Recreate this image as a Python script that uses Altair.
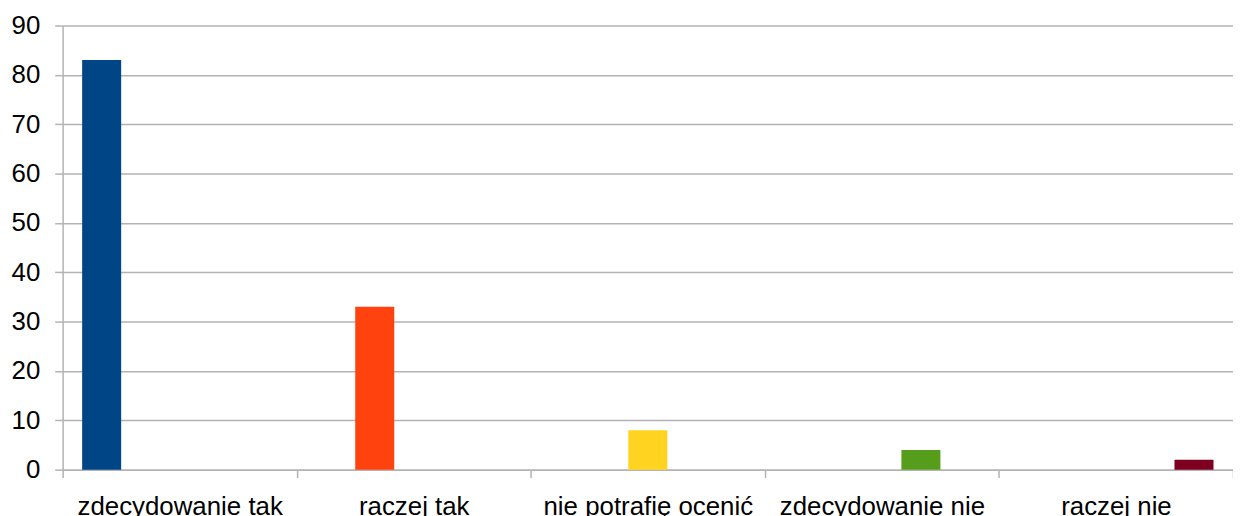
import altair as alt
import pandas as pd

categories = ["zdecydowanie tak", "raczej tak", "nie potrafię ocenić", "zdecydowanie nie", "raczej nie"]
values = [83, 33, 8, 4, 2]
colors = ["#004586", "#ff420e", "#ffd320", "#579d1c", "#7e0021"]
y_ticks = [0, 10, 20, 30, 40, 50, 60, 70, 80, 90]

df = pd.DataFrame({"category": categories, "series": categories, "value": values})

FONT = "Liberation Sans"

chart = alt.Chart(df).mark_bar().encode(
    x=alt.X("category:N", sort=categories, title=None,
            scale=alt.Scale(paddingInner=0, paddingOuter=0),
            axis=alt.Axis(labelAngle=0, tickBand="extent", grid=False,
                          domainColor="#b3b3b3", domainWidth=1.5,
                          tickColor="#b3b3b3", tickWidth=1.5, tickSize=8,
                          labelFontSize=26, labelFont=FONT, labelColor="#000000",
                          labelLimit=0, labelPadding=16)),
    xOffset=alt.XOffset("series:N", sort=categories,
                        scale=alt.Scale(paddingInner=0, paddingOuter=0.5)),
    y=alt.Y("value:Q", title=None,
            scale=alt.Scale(domain=[0, 90], nice=False),
            axis=alt.Axis(values=y_ticks, grid=True, gridColor="#b3b3b3", gridWidth=1.5,
                          domainColor="#b3b3b3", domainWidth=1.5,
                          tickColor="#b3b3b3", tickWidth=1.5, tickSize=8,
                          labelFontSize=26, labelFont=FONT, labelColor="#000000",
                          labelPadding=15)),
    color=alt.Color("series:N", sort=categories, legend=None,
                    scale=alt.Scale(domain=categories, range=colors)),
).properties(
    width=1178,
    height=447,
    autosize=alt.AutoSizeParams(type="none"),
    padding={"left": 55, "top": 16, "right": 0, "bottom": 45},
).configure_view(stroke=None)

chart.save("out.html", embed_options={"renderer": "svg", "actions": False})
